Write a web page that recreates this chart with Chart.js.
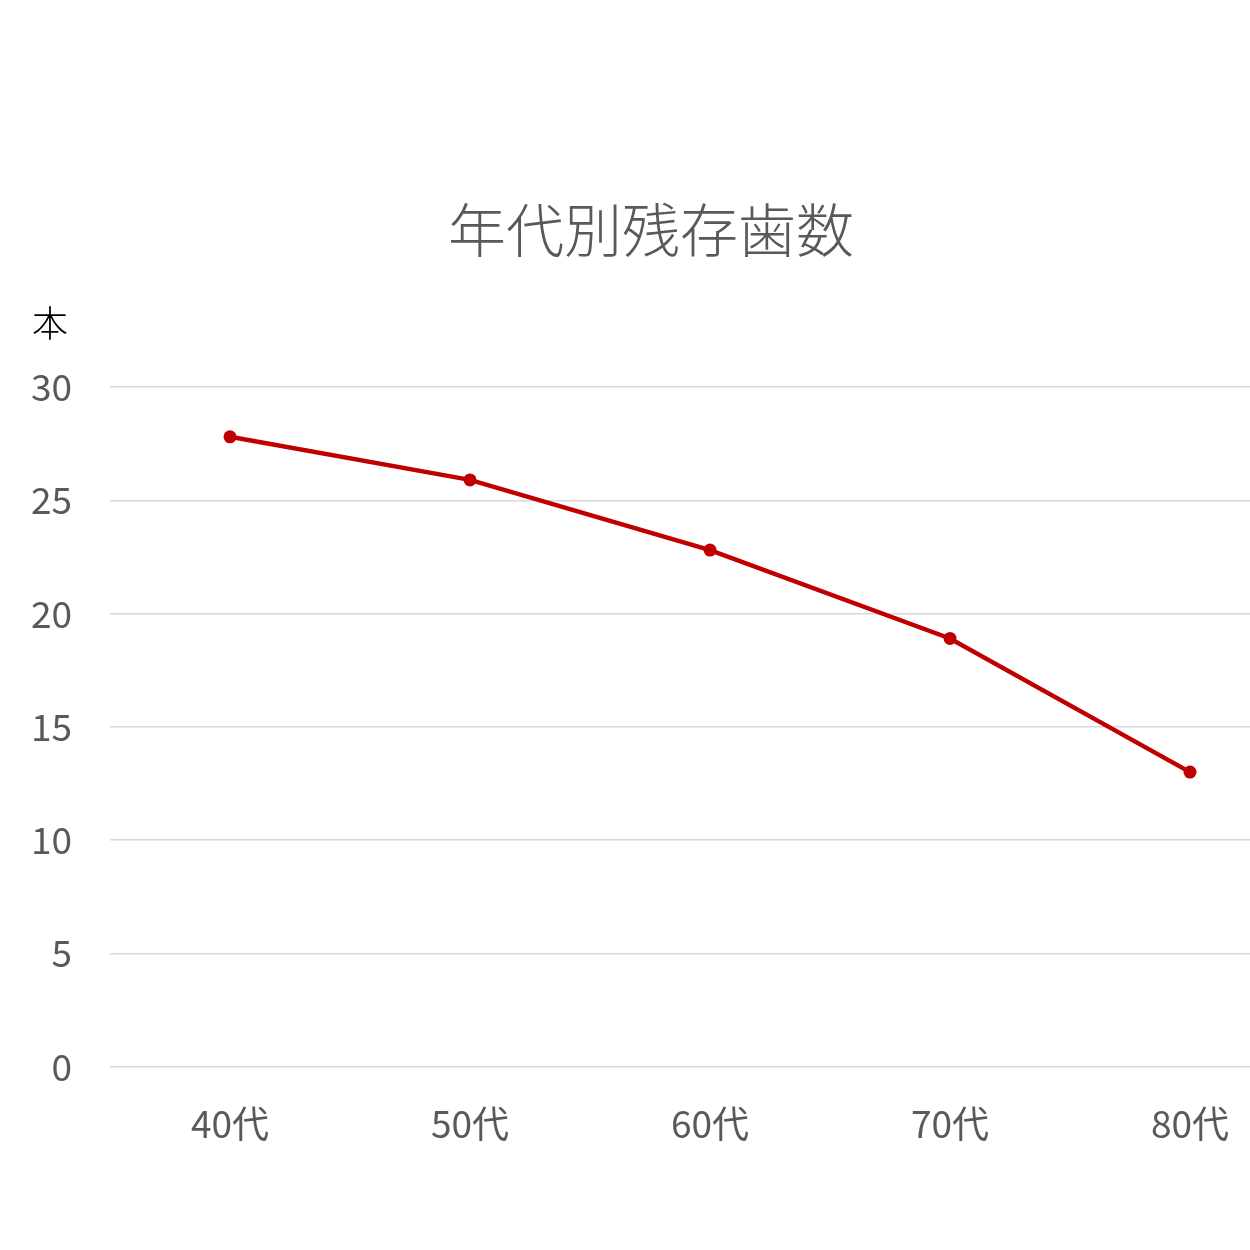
<!DOCTYPE html>
<html>
<head>
<meta charset="utf-8">
<script src="https://cdn.jsdelivr.net/npm/chart.js@4/dist/chart.umd.min.js"></script>
<style>
  html, body { margin: 0; padding: 0; background: #fff; overflow: hidden; }
  #wrap { width: 1320px; height: 1250px; }
</style>
</head>
<body>
<div id="wrap"><canvas id="chart"></canvas></div>
<script>
const ages = ['40代', '50代', '60代', '70代', '80代'];
const teeth = [27.8, 25.9, 22.8, 18.9, 13.0];
const titleText = '年代別残存歯数';
const unitText = '本';

const font = '"Noto Sans CJK JP", "Noto Sans", sans-serif';

// title and unit label are drawn by hand so they sit where the original has them
const labels = {
  id: 'labels',
  afterDraw(chart) {
    const ctx = chart.ctx;
    ctx.save();
    ctx.textAlign = 'center';
    ctx.textBaseline = 'middle';
    ctx.fillStyle = '#595959';
    ctx.font = '300 58px ' + font;
    ctx.fillText(titleText, 651, 230);
    ctx.fillStyle = '#000';
    ctx.font = '300 36px ' + font;
    ctx.fillText(unitText, 50, 323);
    ctx.restore();
  }
};

new Chart(document.getElementById('chart'), {
  type: 'line',
  data: {
    labels: ages,
    datasets: [{
      data: teeth,
      borderColor: '#C00000',
      backgroundColor: '#C00000',
      borderWidth: 4.5,
      pointRadius: 6.5,
      pointBorderWidth: 0,
      tension: 0
    }]
  },
  options: {
    responsive: true,
    maintainAspectRatio: false,
    animation: false,
    layout: { padding: { top: 387, bottom: 69, left: 0, right: 10 } },
    plugins: {
      legend: { display: false },
      title: { display: false },
      tooltip: { enabled: false }
    },
    scales: {
      x: {
        offset: true,
        grid: { display: false, drawTicks: false },
        border: { display: false },
        ticks: { color: '#595959', font: { family: font, size: 37 }, padding: 35 }
      },
      y: {
        min: 0,
        max: 30,
        afterFit(scale) { scale.width = 110; },
        grid: { color: '#D9D9D9', lineWidth: 1.5, drawTicks: false },
        border: { display: false },
        ticks: { stepSize: 5, color: '#595959', font: { family: font, size: 37 }, padding: 38 }
      }
    }
  },
  plugins: [labels]
});
</script>
</body>
</html>
